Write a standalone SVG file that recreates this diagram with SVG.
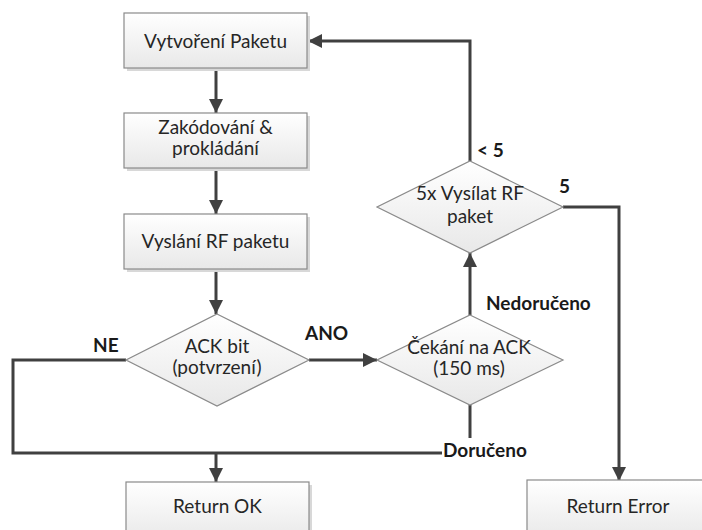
<svg xmlns="http://www.w3.org/2000/svg" width="702" height="530" viewBox="0 0 702 530">
<defs>
<linearGradient id="g" x1="0" y1="0" x2="0" y2="1">
<stop offset="0" stop-color="#ffffff"/>
<stop offset="1" stop-color="#e8e8e8"/>
</linearGradient>
<marker id="ah" markerUnits="userSpaceOnUse" markerWidth="14" markerHeight="14" viewBox="0 0 14 14" refX="14" refY="7" orient="auto">
<path d="M0,0 L14,7 L0,14 Z" fill="#404040"/>
</marker>
<style>
.box{fill:url(#g);stroke:#8a8a8a;stroke-width:1.2}
.sh{fill:#d8d8d8}
.dia{fill:url(#g);stroke:#8a8a8a;stroke-width:1.2}
.t{font-family:Lato,"Liberation Sans",sans-serif;font-size:19px;fill:#262626;text-anchor:middle}
.b{font-family:Lato,"Liberation Sans",sans-serif;font-size:19px;font-weight:bold;fill:#1a1a1a}
.c{fill:none;stroke:#404040;stroke-width:3}
</style>
</defs>
<rect width="702" height="530" fill="#ffffff"/>
<g id="connectors">
<line class="c" x1="216" y1="68" x2="216" y2="113" marker-end="url(#ah)"/>
<line class="c" x1="216" y1="168" x2="216" y2="214" marker-end="url(#ah)"/>
<line class="c" x1="216" y1="269" x2="216" y2="314" marker-end="url(#ah)"/>
<line class="c" x1="309" y1="360" x2="377" y2="360" marker-end="url(#ah)"/>
<line class="c" x1="470" y1="315" x2="470" y2="253" marker-end="url(#ah)"/>
<polyline class="c" points="470,161 470,41 308,41" marker-end="url(#ah)"/>
<polyline class="c" points="563,207 619,207 619,481" marker-end="url(#ah)"/>
<polyline class="c" points="126,360 13,360 13,453 442,453"/>
<line class="c" x1="470" y1="405" x2="470" y2="438"/>
<line class="c" x1="216" y1="453" x2="216" y2="482" marker-end="url(#ah)"/>
</g>
<g id="n1">
<rect class="sh" x="127" y="16" width="183" height="55"/>
<rect class="box" x="124" y="13" width="183" height="55"/>
<text class="t" x="215.5" y="48">Vytvoření Paketu</text>
</g>
<g id="n2">
<rect class="sh" x="127" y="116" width="183" height="55"/>
<rect class="box" x="124" y="113" width="183" height="55"/>
<text class="t" x="215.5" y="134">Zakódování &amp;</text>
<text class="t" x="215.5" y="155">prokládání</text>
</g>
<g id="n3">
<rect class="sh" x="127" y="217" width="183" height="55"/>
<rect class="box" x="124" y="214" width="183" height="55"/>
<text class="t" x="215.5" y="248">Vyslání RF paketu</text>
</g>
<g id="n4">
<polygon class="dia" points="217,314 309,360 217,406 126,360"/>
<text class="t" x="217" y="353">ACK bit</text>
<text class="t" x="217" y="374">(potvrzení)</text>
</g>
<g id="n5">
<polygon class="dia" points="470,315 563,360 470,405 377,360"/>
<text class="t" x="469" y="354">Čekání na ACK</text>
<text class="t" x="469" y="375">(150 ms)</text>
</g>
<g id="n6">
<polygon class="dia" points="470,161 563,207 470,253 377,207"/>
<text class="t" x="470" y="200">5x Vysílat RF</text>
<text class="t" x="470" y="223">paket</text>
</g>
<g id="n7">
<rect class="sh" x="129" y="485" width="183" height="60"/>
<rect class="box" x="126" y="482" width="183" height="60"/>
<text class="t" x="217.5" y="513">Return OK</text>
</g>
<g id="n8">
<rect class="sh" x="530" y="483" width="183" height="60"/>
<rect class="box" x="527" y="480" width="183" height="60"/>
<text class="t" x="618" y="513">Return Error</text>
</g>
<g id="labels">
<text class="b" x="93" y="352">NE</text>
<text class="b" x="305" y="340">ANO</text>
<text class="b" x="477" y="157">&lt; 5</text>
<text class="b" x="559" y="193">5</text>
<text class="b" x="486" y="310">Nedoručeno</text>
<text class="b" x="443" y="457">Doručeno</text>
</g>
</svg>
